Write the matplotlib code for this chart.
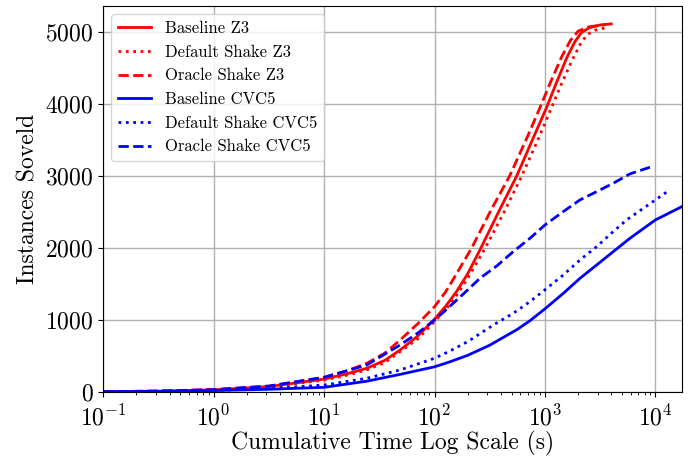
import numpy as np
import matplotlib
matplotlib.use("Agg")
import matplotlib.pyplot as plt

# values (time in s, instances solved)
z3_base_t = [0.1, 0.316, 1, 3.16, 10, 15.8, 24.3, 35.5, 48.8, 70.8, 100, 126, 158, 200,
             263, 380, 555, 759, 1035, 1259, 1585, 1862, 2138, 2512, 3162, 3981]
z3_base_n = [5, 12, 30, 75, 180, 250, 329, 440, 583, 780, 1010, 1190, 1393, 1643,
             2000, 2500, 3000, 3480, 3950, 4280, 4650, 4860, 4990, 5055, 5095, 5110]

z3_def_t = [0.1, 0.316, 1, 3.16, 10, 15.8, 24.3, 35.5, 48.8, 70.8, 100, 126, 158, 200,
            288, 427, 617, 851, 1148, 1413, 1778, 2089, 2399, 2818, 3715]
z3_def_n = [5, 11, 28, 68, 167, 230, 306, 410, 560, 740, 977, 1140, 1340, 1580,
            2000, 2500, 3000, 3480, 3950, 4280, 4620, 4830, 4960, 5020, 5065]

z3_orc_t = [0.1, 0.316, 1, 3.16, 10, 15.8, 24.3, 35.5, 48.8, 70.8, 100, 126, 158, 217,
            331, 479, 692, 902, 1122, 1413, 1698, 1995, 2512, 3548]
z3_orc_n = [5, 13, 33, 82, 204, 290, 398, 540, 722, 950, 1185, 1390, 1640, 2000,
            2550, 3000, 3540, 3950, 4300, 4650, 4880, 5010, 5070, 5100]

cvc_base_t = [0.1, 0.316, 1, 3.16, 10, 24.3, 48.8, 100, 138, 200, 316, 562, 731, 1000,
              1466, 2075, 2938, 4150, 5875, 10000, 17378, 19953]
cvc_base_n = [3, 8, 20, 38, 65, 150, 245, 350, 420, 510, 650, 870, 990, 1155,
              1370, 1579, 1764, 1949, 2134, 2389, 2574, 2610]

cvc_def_t = [0.1, 0.316, 1, 3.16, 10, 24.3, 48.8, 100, 138, 200, 341, 516, 731, 1000,
             1466, 2075, 2938, 4150, 5483, 10000, 13183]
cvc_def_n = [3, 9, 22, 48, 97, 190, 306, 468, 570, 700, 931, 1093, 1255, 1420,
             1625, 1833, 2019, 2227, 2389, 2667, 2796]

cvc_orc_t = [0.1, 0.316, 1, 3.16, 10, 24.3, 48.8, 70.8, 100, 129, 182, 258, 366, 516, 731,
             1000, 1466, 2075, 2938, 4150, 5875, 8913]
cvc_orc_n = [5, 13, 33, 82, 204, 375, 653, 820, 1000, 1150, 1360, 1579, 1750, 1949, 2134,
             2319, 2505, 2667, 2782, 2898, 3028, 3120]

plt.rcParams['font.family'] = 'serif'
plt.rcParams['font.serif'] = ['cmr10']
plt.rcParams['mathtext.fontset'] = 'cm'
plt.rcParams['axes.formatter.use_mathtext'] = True
plt.rcParams['axes.unicode_minus'] = True

fig = plt.figure(figsize=(6.97, 4.63), dpi=100)
ax = fig.add_axes([0.148, 0.1533, 0.8305, 0.834])

lw = 2.0
ax.plot(z3_base_t, z3_base_n, color='red', linestyle='-', lw=lw, label='Baseline Z3')
ax.plot(z3_def_t, z3_def_n, color='red', linestyle=':', lw=lw, label='Default Shake Z3')
ax.plot(z3_orc_t, z3_orc_n, color='red', linestyle='--', lw=lw, label='Oracle Shake Z3')
ax.plot(cvc_base_t, cvc_base_n, color='blue', linestyle='-', lw=lw, label='Baseline CVC5')
ax.plot(cvc_def_t, cvc_def_n, color='blue', linestyle=':', lw=lw, label='Default Shake CVC5')
ax.plot(cvc_orc_t, cvc_orc_n, color='blue', linestyle='--', lw=lw, label='Oracle Shake CVC5')

ax.set_xscale('log')
ax.set_xlim(0.1, 1.74e4)
ax.set_ylim(0, 5360)
ax.set_yticks([0, 1000, 2000, 3000, 4000, 5000])
ax.grid(True, which='major', color='#b0b0b0', linewidth=1.0)
ax.tick_params(axis='both', which='major', labelsize=17)
ax.tick_params(axis='x', which='major', pad=6)

ax.set_xlabel('Cumulative Time Log Scale (s)', fontsize=17, labelpad=0)
ax.set_ylabel('Instances Soveld', fontsize=17)
ax.legend(loc='upper left', fontsize=12)

plt.savefig('out.png', dpi=100)
plt.close()
